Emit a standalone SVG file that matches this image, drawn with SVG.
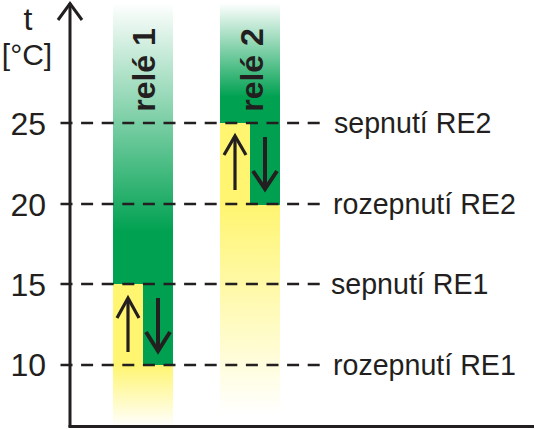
<svg xmlns="http://www.w3.org/2000/svg" width="535" height="429" viewBox="0 0 535 429">
  <defs>
    <linearGradient id="g1" gradientUnits="userSpaceOnUse" x1="0" y1="3" x2="0" y2="232">
      <stop offset="0" stop-color="#ffffff"/>
      <stop offset="1" stop-color="#00a151"/>
    </linearGradient>
    <linearGradient id="g2" gradientUnits="userSpaceOnUse" x1="0" y1="3" x2="0" y2="97">
      <stop offset="0" stop-color="#ffffff"/>
      <stop offset="1" stop-color="#00a151"/>
    </linearGradient>
    <linearGradient id="y1" gradientUnits="userSpaceOnUse" x1="0" y1="365" x2="0" y2="427">
      <stop offset="0" stop-color="#fff571"/>
      <stop offset="1" stop-color="#ffffff"/>
    </linearGradient>
    <linearGradient id="y2" gradientUnits="userSpaceOnUse" x1="0" y1="205" x2="0" y2="415">
      <stop offset="0" stop-color="#fff571"/>
      <stop offset="1" stop-color="#ffffff"/>
    </linearGradient>
  </defs>
  <style>
    text { font-family: "Liberation Sans", Arial, sans-serif; fill: #231f20; }
    .num { font-size: 32px; text-anchor: end; }
    .lbl { font-size: 28.6px; }
    .bar { font-size: 32px; font-weight: bold; text-anchor: middle; }
    .yel { fill: #fff571; }
    .grn { fill: #00a050; }
    .dash { stroke: #231f20; stroke-width: 2.3; stroke-dasharray: 12 8.6; fill: none; }
    .arr { stroke: #231f20; stroke-width: 3.2; fill: none; stroke-linecap: butt; stroke-linejoin: miter; }
    .arrb { stroke: #231f20; stroke-width: 4; fill: none; stroke-linejoin: miter; }
    .axis { stroke: #231f20; stroke-width: 3; fill: none; }
  </style>

  <g id="rele1">
    <rect x="113" y="3" width="60" height="281" fill="url(#g1)"/>
    <rect class="yel" x="113" y="284" width="30" height="81"/>
    <rect class="grn" x="143" y="284" width="30" height="81"/>
    <rect x="113" y="365" width="60" height="61" fill="url(#y1)"/>
    <text class="bar" transform="translate(155,70) rotate(-90)">relé 1</text>
  </g>

  <g id="rele2">
    <rect x="220" y="3" width="60" height="120" fill="url(#g2)"/>
    <rect class="yel" x="220" y="123" width="30" height="82"/>
    <rect class="grn" x="250" y="123" width="30" height="82"/>
    <rect x="220" y="205" width="60" height="210" fill="url(#y2)"/>
    <text class="bar" transform="translate(263,70) rotate(-90)">relé 2</text>
  </g>

  <g id="axes">
    <line class="axis" x1="70" y1="3" x2="70" y2="427"/>
    <line class="axis" x1="68.5" y1="426.5" x2="534" y2="426.5"/>
    <polyline class="axis" points="58,20 70,3.5 82,20"/>
    <text x="28" y="30" style="font-size:32px;text-anchor:middle">t</text>
    <text x="27" y="65" style="font-size:30px;text-anchor:middle">[°C]</text>
  </g>

  <g id="connectors">
    <line class="dash" x1="60.5" y1="123" x2="322" y2="123"/>
    <line class="dash" x1="60.5" y1="204" x2="322" y2="204"/>
    <line class="dash" x1="60.5" y1="284" x2="322" y2="284"/>
    <line class="dash" x1="60.5" y1="365" x2="322" y2="365"/>
    <line class="arr" x1="128" y1="352" x2="128" y2="299"/>
    <polyline class="arr" points="117,318 128,298 139,318"/>
    <line class="arrb" x1="158" y1="298" x2="158" y2="350"/>
    <polyline class="arrb" points="146,332 158,351 170,332"/>
    <line class="arr" x1="235" y1="190" x2="235" y2="137"/>
    <polyline class="arr" points="224,155 235,136 246,155"/>
    <line class="arrb" x1="265" y1="137" x2="265" y2="188"/>
    <polyline class="arrb" points="253,171 265,189 277,171"/>
  </g>

  <g id="scale">
    <text class="num" x="46" y="135">25</text>
    <text class="num" x="46" y="216">20</text>
    <text class="num" x="46" y="296">15</text>
    <text class="num" x="46" y="376">10</text>
  </g>

  <g id="labels">
    <text class="lbl" x="334" y="133">sepnutí RE2</text>
    <text class="lbl" x="333" y="214">rozepnutí RE2</text>
    <text class="lbl" x="331" y="294">sepnutí RE1</text>
    <text class="lbl" x="333" y="375">rozepnutí RE1</text>
  </g>
</svg>
